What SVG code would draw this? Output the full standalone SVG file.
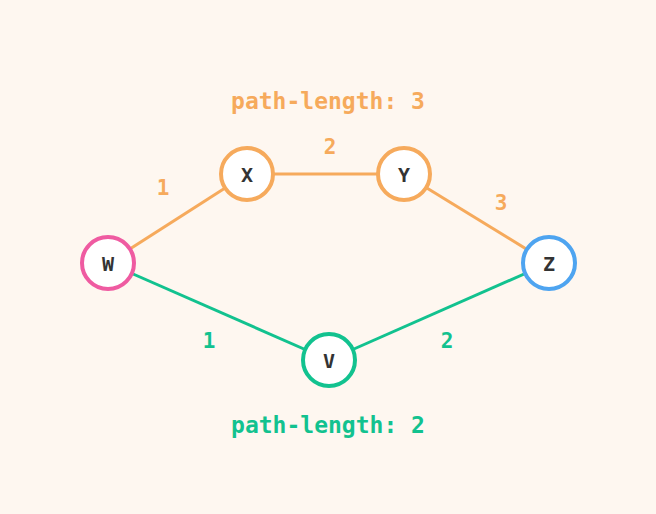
<svg xmlns="http://www.w3.org/2000/svg" width="656" height="514" viewBox="0 0 656 514">
<style>
.node circle{fill:#ffffff;stroke-width:4}
.node text{font-family:"DejaVu Sans Mono","Liberation Mono",monospace;font-weight:bold;font-size:20px;fill:#333333;text-anchor:middle;dominant-baseline:central}
.lbl{font-family:"DejaVu Sans Mono","Liberation Mono",monospace;font-weight:bold;text-anchor:middle;dominant-baseline:central}
.o{fill:#F6AA5C}
.g{fill:#12C28F}
.eo{stroke:#F6AA5C;stroke-width:3;fill:none}
.eg{stroke:#12C28F;stroke-width:3;fill:none}
</style>
<rect width="656" height="514" fill="#FEF7F0"/>
<g id="connectors">
<line class="eo" x1="108" y1="263" x2="247" y2="174"/>
<line class="eo" x1="247" y1="174" x2="404" y2="174"/>
<line class="eo" x1="404" y1="174" x2="549" y2="263"/>
<line class="eg" x1="108" y1="263" x2="329" y2="360"/>
<line class="eg" x1="329" y1="360" x2="549" y2="263"/>
</g>
<g id="labels">
<text class="lbl o" x="328" y="101" font-size="23">path-length: 3</text>
<text class="lbl g" x="328" y="425" font-size="23">path-length: 2</text>
<text class="lbl o" x="163" y="188" font-size="21">1</text>
<text class="lbl o" x="330" y="147" font-size="21">2</text>
<text class="lbl o" x="501" y="203" font-size="21">3</text>
<text class="lbl g" x="209" y="341" font-size="21">1</text>
<text class="lbl g" x="447" y="341" font-size="21">2</text>
</g>
<g id="node-W" class="node"><circle cx="108" cy="263" r="26" stroke="#EF5BA1"/><text x="108" y="264">W</text></g>
<g id="node-X" class="node"><circle cx="247" cy="174" r="26" stroke="#F6AA5C"/><text x="247" y="175">X</text></g>
<g id="node-Y" class="node"><circle cx="404" cy="174" r="26" stroke="#F6AA5C"/><text x="404" y="175">Y</text></g>
<g id="node-Z" class="node"><circle cx="549" cy="263" r="26" stroke="#4EA4F0"/><text x="549" y="264">Z</text></g>
<g id="node-V" class="node"><circle cx="329" cy="360" r="26" stroke="#12C28F"/><text x="329" y="361">V</text></g>
</svg>
